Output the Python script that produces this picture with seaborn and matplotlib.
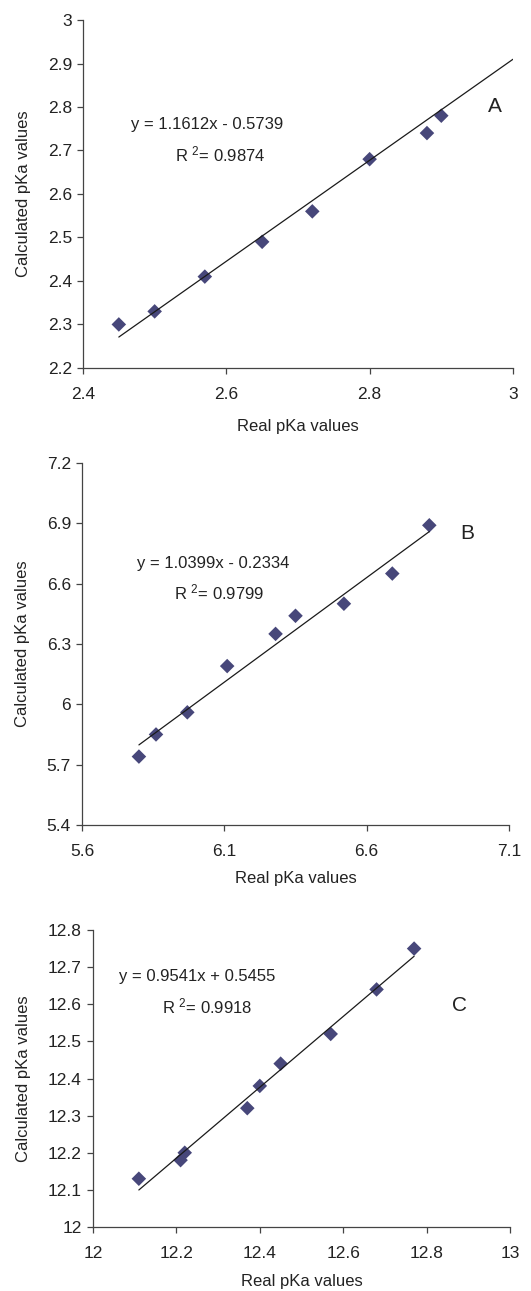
import numpy as np
import pandas as pd
import matplotlib
matplotlib.use('Agg')
import matplotlib.pyplot as plt
import seaborn as sns

# Panel A
real_a = [2.45, 2.50, 2.57, 2.65, 2.72, 2.80, 2.88, 2.90]
calc_a = [2.30, 2.33, 2.41, 2.49, 2.56, 2.68, 2.74, 2.78]
fit_a = (1.1612, -0.5739, 0.9874)
# Panel B
real_b = [5.80, 5.86, 5.97, 6.11, 6.28, 6.35, 6.52, 6.69, 6.82]
calc_b = [5.74, 5.85, 5.96, 6.19, 6.35, 6.44, 6.50, 6.65, 6.89]
fit_b = (1.0399, -0.2334, 0.9799)
# Panel C
real_c = [12.11, 12.21, 12.22, 12.37, 12.40, 12.45, 12.57, 12.68, 12.77]
calc_c = [12.13, 12.18, 12.20, 12.32, 12.38, 12.44, 12.52, 12.64, 12.75]
fit_c = (0.9541, 0.5455, 0.9918)

sns.set_style('ticks')
plt.rcParams['font.family'] = ['Liberation Sans', 'DejaVu Sans']
plt.rcParams['mathtext.fontset'] = 'custom'
plt.rcParams['mathtext.rm'] = 'Liberation Sans'
plt.rcParams['mathtext.it'] = 'Liberation Sans'

fig = plt.figure(figsize=(5.31, 12.91), dpi=100)

panels = [
    dict(x=real_a, y=calc_a, fit=fit_a, line=(2.45, 3.0),
         rect=[0.1563, 0.715, 0.8097, 0.2695], xpad=12,
         xlim=(2.4, 3.0), ylim=(2.2, 3.0),
         xt=[2.4, 2.6, 2.8, 3.0], xtl=['2.4', '2.6', '2.8', '3'],
         yt=[2.2, 2.3, 2.4, 2.5, 2.6, 2.7, 2.8, 2.9, 3.0],
         ytl=['2.2', '2.3', '2.4', '2.5', '2.6', '2.7', '2.8', '2.9', '3'],
         eq=(2.573, 2.759), r2=(2.591, 2.69), letter=('A', 2.975, 2.80)),
    dict(x=real_b, y=calc_b, fit=fit_b, line=(5.80, 6.82),
         rect=[0.1544, 0.361, 0.8042, 0.2804], xpad=8,
         xlim=(5.6, 7.1), ylim=(5.4, 7.2),
         xt=[5.6, 6.1, 6.6, 7.1], xtl=['5.6', '6.1', '6.6', '7.1'],
         yt=[5.4, 5.7, 6.0, 6.3, 6.6, 6.9, 7.2],
         ytl=['5.4', '5.7', '6', '6.3', '6.6', '6.9', '7.2'],
         eq=(6.06, 6.70), r2=(6.081, 6.557), letter=('B', 6.955, 6.85)),
    dict(x=real_c, y=calc_c, fit=fit_c, line=(12.11, 12.77),
         rect=[0.1751, 0.0496, 0.7854, 0.23], xpad=9,
         xlim=(12.0, 13.0), ylim=(12.0, 12.8),
         xt=[12.0, 12.2, 12.4, 12.6, 12.8, 13.0],
         xtl=['12', '12.2', '12.4', '12.6', '12.8', '13'],
         yt=[12.0, 12.1, 12.2, 12.3, 12.4, 12.5, 12.6, 12.7, 12.8],
         ytl=['12', '12.1', '12.2', '12.3', '12.4', '12.5', '12.6', '12.7', '12.8'],
         eq=(12.249, 12.674), r2=(12.274, 12.593), letter=('C', 12.88, 12.596)),
]

for p in panels:
    ax = fig.add_axes(p['rect'])
    df = pd.DataFrame({'real': p['x'], 'calc': p['y']})
    m, b, r2 = p['fit']
    lx = np.array(p['line'])
    # trendline from the printed equation
    ax.plot(lx, m * lx + b, color='#1a1a1a', lw=0.9, zorder=3)
    sns.scatterplot(data=df, x='real', y='calc', marker='D', s=55,
                    color='#47477a', edgecolor='none', ax=ax, zorder=2)
    ax.set_xlim(p['xlim'])
    ax.set_ylim(p['ylim'])
    ax.set_xticks(p['xt'])
    ax.set_xticklabels(p['xtl'])
    ax.set_yticks(p['yt'])
    ax.set_yticklabels(p['ytl'])
    ax.tick_params(labelsize=12.5, length=4, width=0.9, color='#444444',
                   labelcolor='#222222', pad=4)
    ax.tick_params(axis='x', pad=10)
    ax.set_xlabel('Real pKa values', fontsize=12, color='#222222', labelpad=p['xpad'])
    ax.set_ylabel('Calculated pKa values', fontsize=12, color='#222222', labelpad=12)
    sns.despine(ax=ax)
    for s in ['left', 'bottom']:
        ax.spines[s].set_color('#444444')
        ax.spines[s].set_linewidth(0.9)
    sign = '-' if b < 0 else '+'
    ax.text(p['eq'][0], p['eq'][1], 'y = %.4fx %s %.4f' % (m, sign, abs(b)),
            ha='center', va='center', fontsize=12, color='#222222')
    ax.text(p['r2'][0], p['r2'][1], r'R $^{2}$= %.4f' % r2,
            ha='center', va='center', fontsize=12, color='#222222')
    ax.text(p['letter'][1], p['letter'][2], p['letter'][0],
            ha='center', va='center', fontsize=15, color='#222222')

fig.savefig('out.png', dpi=100)
